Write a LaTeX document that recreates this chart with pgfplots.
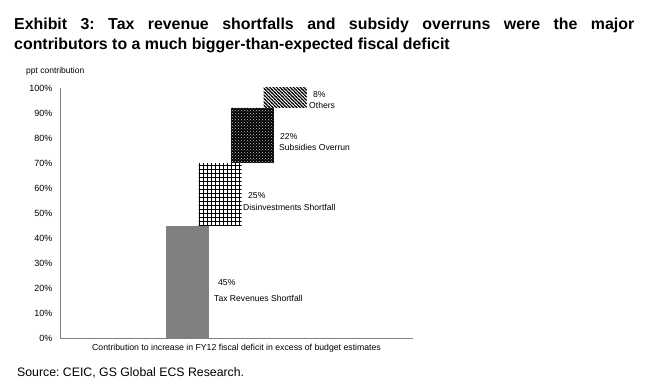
\documentclass[border=0pt]{standalone}
\usepackage{fontspec}
\setmainfont{Liberation Sans}
\usepackage{pgfplots}
\pgfplotsset{compat=1.18}
\usetikzlibrary{patterns,patterns.meta}
\definecolor{axgray}{RGB}{128,128,128}
\definecolor{bargray}{RGB}{128,128,128}
\tikzdeclarepattern{
  name=mygrid, type=uncolored,
  bottom left={(0pt,0pt)}, top right={(3.9pt,3.9pt)},
  tile size={(3.9pt,3.9pt)},
  code={\draw[line width=0.9pt] (0pt,0.5pt) -- (3.9pt,0.5pt) (0.5pt,0pt) -- (0.5pt,3.9pt);}
}
\tikzdeclarepattern{
  name=mydiag, type=uncolored,
  bottom left={(-0.1pt,-0.1pt)}, top right={(3.5pt,3.5pt)},
  tile size={(3.4pt,3.4pt)},
  code={\draw[line width=1.1pt] (0pt,3.4pt) -- (3.4pt,0pt) (-1pt,1pt) -- (1pt,-1pt) (2.4pt,4.4pt) -- (4.4pt,2.4pt);}
}
\tikzset{lbl/.style={anchor=west, inner sep=0pt, font=\fontsize{8.6}{10}\selectfont}}
\begin{document}
\frenchspacing
\begin{tikzpicture}
\useasboundingbox (0pt,0pt) rectangle (647pt,-382pt);
\node[anchor=north west, inner sep=0pt, text width=620pt, align=justify,
      font=\bfseries\fontsize{15.9}{20}\selectfont] at (14pt,-18pt)
  {Exhibit 3: Tax revenue shortfalls and subsidy overruns were the major\linebreak contributors to a much bigger-than-expected fiscal deficit};
\node[anchor=west, inner sep=0pt, font=\fontsize{8.5}{10}\selectfont] at (26pt,-71pt) {ppt contribution};
\node[anchor=west, inner sep=0pt, font=\fontsize{12.3}{14}\selectfont] at (17pt,-373pt) {Source: CEIC, GS Global ECS Research.};
\begin{axis}[
  at={(60pt,-338pt)}, anchor=south west,
  scale only axis, width=353pt, height=250pt,
  xmin=0, xmax=353, ymin=0, ymax=100,
  axis x line=bottom, axis y line=left,
  axis line style={axgray, -, line width=0.8pt},
  xtick=\empty,
  ytick={0,10,...,100},
  major tick length=0pt,
  yticklabel={\pgfmathprintnumber{\tick}\%},
  /pgf/number format/assume math mode=true,
  yticklabel style={font=\fontsize{9}{10}\selectfont, xshift=-4pt},
  clip=false,
]
% bars as closed rectangles: x from centre-21.5 to centre+21.5, y from base to top
\addplot[draw=none, fill=bargray] coordinates {(106,0) (149,0) (149,45) (106,45)} -- cycle;
\addplot[draw=none, pattern=mygrid, pattern color=black] coordinates {(138.5,45) (181.5,45) (181.5,70) (138.5,70)} -- cycle;
\addplot[draw=none, fill=black, postaction={pattern=crosshatch dots, pattern color=white!75!black}] coordinates {(170.5,70) (213.5,70) (213.5,92) (170.5,92)} -- cycle;
\addplot[draw=none, pattern=mydiag, pattern color=black] coordinates {(203.5,92) (246.5,92) (246.5,100) (203.5,100)} -- cycle;
\node[anchor=north, inner sep=0pt, font=\fontsize{8.7}{10}\selectfont] at (axis cs:176.5,0) [yshift=-6pt] {Contribution to increase in FY12 fiscal deficit in excess of budget estimates};
\node[lbl] at (axis cs:158,22) {45\%};
\node[lbl] at (axis cs:154,16) {Tax Revenues Shortfall};
\node[lbl] at (axis cs:188,56.8) {25\%};
\node[lbl] at (axis cs:183,52.4) {Disinvestments Shortfall};
\node[lbl] at (axis cs:220,80.4) {22\%};
\node[lbl] at (axis cs:219,76.4) {Subsidies Overrun};
\node[lbl] at (axis cs:253,97.2) {8\%};
\node[lbl] at (axis cs:249,93.2) {Others};
\end{axis}
\end{tikzpicture}
\end{document}
